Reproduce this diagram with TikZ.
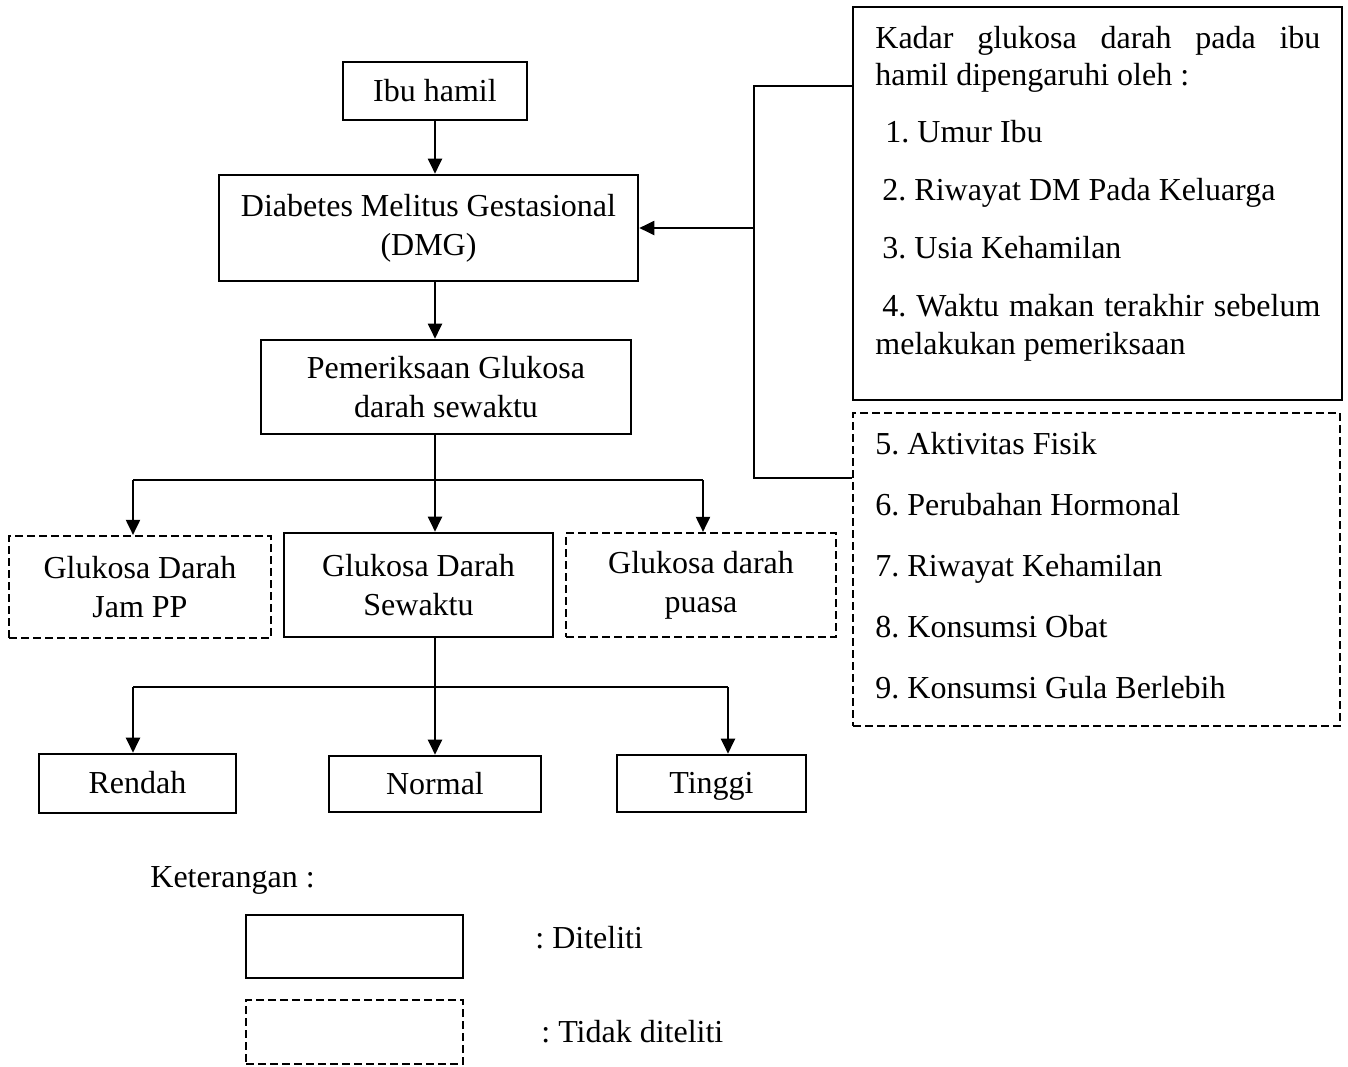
\documentclass[tikz,border=0pt]{standalone}
\usepackage{fontspec}
\setmainfont{Liberation Serif}
\usetikzlibrary{arrows.meta,calc,positioning}
\frenchspacing
\tikzset{
	diteliti/.style = {draw, line width=1.3pt, align=center, inner sep=0pt},
	tidak/.style    = {draw, line width=1.1pt, dash pattern=on 4pt off 2pt, align=center, inner sep=0pt},
	ukuran/.style 2 args = {minimum width=#1*0.5pt, minimum height=#2*0.5pt},
	satu/.style     = {text height=12pt, text depth=2pt},
	panah/.style    = {line width=1pt, -{Triangle[length=7.5pt,width=7pt]}},
	garis/.style    = {line width=1pt},
	kurung/.style   = {line width=0.7pt},
	butir/.style    = {anchor=west, inner sep=0pt, satu},
}

\begin{document}
\begin{tikzpicture}[x=0.5pt, y=-0.5pt, font=\fontsize{16}{19.5}\selectfont]
	\useasboundingbox (0,0) rectangle (1348,1066);
	% alur utama
	\node[diteliti, satu, ukuran={184}{58}] (ibu) at (435,91) {Ibu hamil};
	\node[diteliti, ukuran={419}{106}] (dmg) at (428.5,228) {Diabetes Melitus Gestasional\\(DMG)};
	\node[diteliti, ukuran={370}{94}] (periksa) at (446,387) {Pemeriksaan Glukosa\\darah sewaktu};
	\node[tidak, ukuran={262}{102}] (jampp) at (140,587) {Glukosa Darah\\Jam PP};
	\node[diteliti, ukuran={269}{104}] (sewaktu) at (418.5,585) {Glukosa Darah\\Sewaktu};
	\node[tidak, ukuran={270}{104}] (puasa) at (701,585) {Glukosa darah\\puasa};
	\node[diteliti, satu, ukuran={197}{59}] (rendah) at (137.5,783.5) {Rendah};
	\node[diteliti, satu, ukuran={212}{56}] (normal) at (435,784) {Normal};
	\node[diteliti, satu, ukuran={189}{57}] (tinggi) at (711.5,783.5) {Tinggi};
	\draw[panah] (ibu.south) -- (ibu.south |- dmg.north);
	\draw[panah] (dmg.south -| ibu.south) -- (periksa.north -| ibu.south);
	\draw[panah] (periksa.south -| ibu.south) -- (sewaktu.north -| ibu.south);
	\coordinate (c1) at (133,480);
	\coordinate (c2) at (703,480);
	\draw[garis] (c1) -- (c2);
	\draw[panah] (c1) -- (c1 |- jampp.north);
	\draw[panah] (c2) -- (c2 |- puasa.north);
	\draw[panah] (sewaktu.south -| ibu.south) -- (normal.north -| ibu.south);
	\coordinate (c3) at (133,687);
	\coordinate (c4) at (728,687);
	\draw[garis] (c3) -- (c4);
	\draw[panah] (c3) -- (c3 |- rendah.north);
	\draw[panah] (c4) -- (c4 |- tinggi.north);
	% faktor yang mempengaruhi
	\node[diteliti, ukuran={489}{393}] (faktor) at (1097.5,203.5) {};
	\node[tidak, ukuran={487}{313}] (lain) at (1096.5,569.5) {};
	\node[butir] (f0) at (875,38) {\makebox[222.5pt][s]{Kadar glukosa darah pada ibu}};
	\node[butir] (f0b) at (875,75) {hamil dipengaruhi oleh :};
	\node[butir] (f1) at (885,132) {1. Umur Ibu};
	\node[butir] (f2) at (882,190) {2. Riwayat DM Pada Keluarga};
	\node[butir] (f3) at (882,248) {3. Usia Kehamilan};
	\node[butir] (f4) at (882,306) {\makebox[219pt][s]{4. Waktu makan terakhir sebelum}};
	\node[butir] (f4b) at (875,344) {melakukan pemeriksaan};
	\node[butir] (f5) at (875,444) {5. Aktivitas Fisik};
	\node[butir] (f6) at (875,505) {6. Perubahan Hormonal};
	\node[butir] (f7) at (875,566) {7. Riwayat Kehamilan};
	\node[butir] (f8) at (875,627) {8. Konsumsi Obat};
	\node[butir] (f9) at (875,688) {9. Konsumsi Gula Berlebih};
	\coordinate (k1) at (754,86);
	\coordinate (k2) at (754,478);
	\draw[kurung] (faktor.west |- k1) -- (k1) -- (k2) -- (lain.west |- k2);
	\draw[panah] (dmg.east -| k1) -- (dmg.east);
	% keterangan
	\node[butir] (ket) at (150,877) {Keterangan :};
	\node[diteliti, ukuran={217}{63}] (leg1) at (354.5,946.5) {};
	\node[butir] (legt1) at (535,938) {: Diteliti};
	\node[tidak, ukuran={217}{64}] (leg2) at (354.5,1032) {};
	\node[butir] (legt2) at (541,1032) {: Tidak diteliti};
\end{tikzpicture}
\end{document}
